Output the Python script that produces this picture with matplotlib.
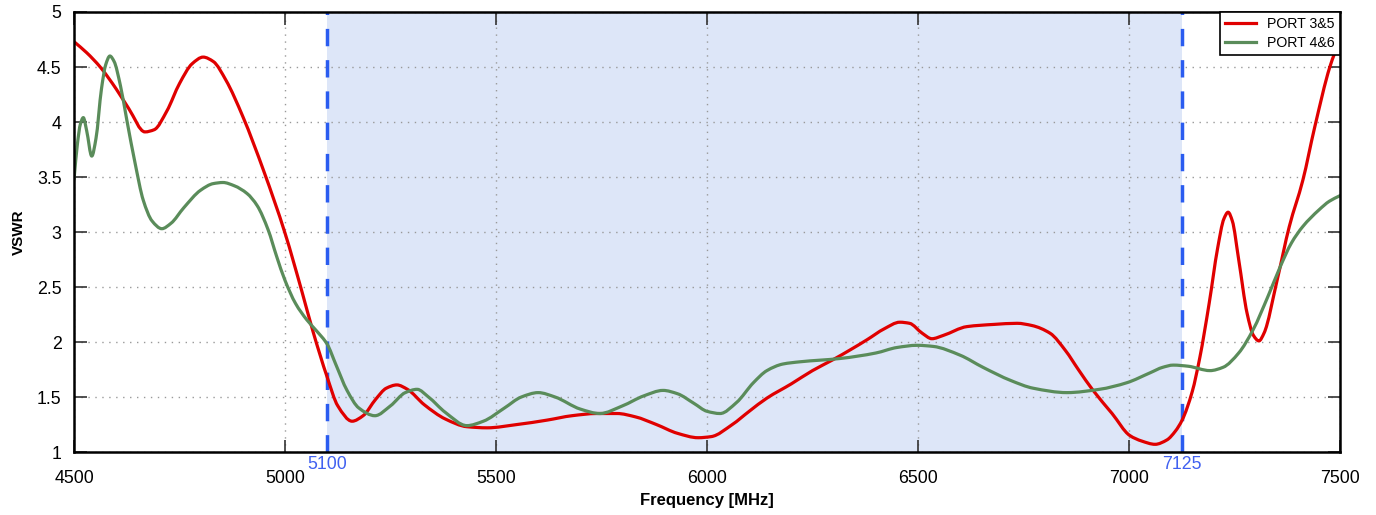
import matplotlib
matplotlib.use("Agg")
import matplotlib.pyplot as plt
from matplotlib.path import Path
from matplotlib.patches import PathPatch
from matplotlib.lines import Line2D

plt.rcParams['font.family'] = ['Liberation Sans', 'DejaVu Sans']

# PORT 3&5 (red)
red_x = [4500, 4530, 4562, 4600, 4630, 4668, 4690, 4720, 4750, 4780, 4806, 4830, 4860,
         4900, 4950, 5000, 5040, 5066, 5100, 5125, 5159, 5185, 5215, 5240, 5265, 5290,
         5330, 5380, 5431, 5479, 5550, 5621, 5680, 5739, 5787, 5830, 5880, 5930, 5979,
         6010, 6060, 6100, 6142, 6200, 6250, 6299, 6340, 6379, 6420, 6457, 6480, 6510,
         6533, 6560, 6616, 6680, 6735, 6770, 6813, 6850, 6880, 6915, 6960, 7002, 7030,
         7062, 7090, 7110, 7126, 7150, 7168, 7190, 7210, 7225, 7235, 7245, 7260, 7280,
         7295, 7308, 7320, 7351, 7380, 7412, 7440, 7476, 7500]
red_y = [4.73, 4.63, 4.50, 4.30, 4.12, 3.91, 3.93, 4.10, 4.35, 4.53, 4.59, 4.55, 4.38,
         4.05, 3.55, 2.99, 2.46, 2.10, 1.68, 1.42, 1.28, 1.33, 1.48, 1.58, 1.61, 1.57,
         1.43, 1.30, 1.23, 1.22, 1.25, 1.29, 1.33, 1.35, 1.35, 1.32, 1.25, 1.17, 1.13,
         1.14, 1.25, 1.37, 1.49, 1.62, 1.74, 1.84, 1.93, 2.02, 2.12, 2.18, 2.17, 2.08,
         2.03, 2.06, 2.14, 2.16, 2.17, 2.15, 2.08, 1.92, 1.75, 1.56, 1.35, 1.15, 1.10,
         1.07, 1.11, 1.19, 1.29, 1.55, 1.86, 2.35, 2.85, 3.12, 3.18, 3.10, 2.75, 2.26,
         2.06, 2.01, 2.08, 2.56, 3.05, 3.47, 3.95, 4.50, 4.75]

# PORT 4&6 (green)
green_x = [4500, 4508, 4515, 4522, 4530, 4542, 4552, 4565, 4575, 4585, 4595, 4610, 4625,
           4645, 4664, 4685, 4708, 4730, 4760, 4800, 4830, 4853, 4880, 4910, 4934, 4960,
           4980, 5000, 5025, 5052, 5075, 5100, 5120, 5147, 5175, 5213, 5250, 5285, 5313,
           5340, 5380, 5431, 5470, 5520, 5560, 5600, 5640, 5700, 5746, 5800, 5850, 5896,
           5930, 5970, 6000, 6031, 6070, 6110, 6142, 6180, 6220, 6315, 6400, 6450, 6498,
           6536, 6600, 6654, 6720, 6773, 6853, 6930, 6995, 7050, 7080, 7105, 7140, 7192,
           7223, 7260, 7294, 7330, 7358, 7385, 7412, 7450, 7475, 7500]
green_y = [3.48, 3.80, 3.98, 4.04, 3.92, 3.69, 3.85, 4.30, 4.52, 4.60, 4.55, 4.33, 4.02,
           3.62, 3.29, 3.10, 3.03, 3.08, 3.22, 3.38, 3.44, 3.45, 3.42, 3.35, 3.24, 3.02,
           2.78, 2.56, 2.35, 2.20, 2.10, 1.98, 1.80, 1.56, 1.40, 1.33, 1.42, 1.54, 1.57,
           1.50, 1.36, 1.24, 1.28, 1.40, 1.50, 1.54, 1.50, 1.39, 1.35, 1.42, 1.51, 1.56,
           1.53, 1.44, 1.37, 1.35, 1.45, 1.63, 1.74, 1.80, 1.82, 1.85, 1.90, 1.95, 1.97,
           1.96, 1.88, 1.77, 1.65, 1.58, 1.54, 1.57, 1.63, 1.72, 1.77, 1.79, 1.78, 1.74,
           1.77, 1.90, 2.11, 2.42, 2.68, 2.90, 3.05, 3.20, 3.28, 3.33]

series_names = ['PORT 3&5', 'PORT 4&6']
band = [5100, 7125]
x_ticks = [4500, 5000, 5500, 6000, 6500, 7000, 7500]
y_ticks = [1, 1.5, 2, 2.5, 3, 3.5, 4, 4.5, 5]
y_labels = ['1', '1.5', '2', '2.5', '3', '3.5', '4', '4.5', '5']


def smooth_path(xs, ys):
    """Monotone cubic (Fritsch-Carlson) Bezier path through the read points."""
    n = len(xs)
    d = [(ys[i + 1] - ys[i]) / (xs[i + 1] - xs[i]) for i in range(n - 1)]
    m = [0.0] * n
    m[0] = d[0]
    m[-1] = d[-1]
    for i in range(1, n - 1):
        if d[i - 1] * d[i] <= 0:
            m[i] = 0.0
        else:
            h0 = xs[i] - xs[i - 1]
            h1 = xs[i + 1] - xs[i]
            w1 = 2 * h1 + h0
            w2 = h1 + 2 * h0
            m[i] = (w1 + w2) / (w1 / d[i - 1] + w2 / d[i])
    verts = [(xs[0], ys[0])]
    codes = [Path.MOVETO]
    for i in range(n - 1):
        h = xs[i + 1] - xs[i]
        verts += [(xs[i] + h / 3, ys[i] + m[i] * h / 3),
                  (xs[i + 1] - h / 3, ys[i + 1] - m[i + 1] * h / 3),
                  (xs[i + 1], ys[i + 1])]
        codes += [Path.CURVE4] * 3
    return Path(verts, codes)


fig = plt.figure(figsize=(13.76, 5.15), dpi=100)
ax = fig.add_axes([0.0538, 0.1223, 0.92, 0.8544])

ax.axvspan(band[0], band[1], color='#dde6f8', zorder=0, lw=0)
for b in band:
    ax.axvline(b, color='#2a5cf0', lw=2.5, linestyle=(0, (5, 4)), zorder=3)
    ax.text(b, -0.008, str(b), transform=ax.get_xaxis_transform(), ha='center', va='top',
            color='#4060f0', fontsize=12.8)

colors = ['#e00000', '#5a8c5a']
handles = []
for xs, ys, c, name in [(red_x, red_y, colors[0], series_names[0]),
                        (green_x, green_y, colors[1], series_names[1])]:
    patch = PathPatch(smooth_path(xs, ys), facecolor='none', edgecolor=c, lw=2.3,
                      zorder=4, capstyle='round', joinstyle='round')
    ax.add_patch(patch)
    handles.append(Line2D([], [], color=c, lw=2.3, label=name))

ax.set_xlim(4500, 7500)
ax.set_ylim(1, 5)
ax.set_xticks(x_ticks)
ax.set_yticks(y_ticks)
ax.set_yticklabels(y_labels)
ax.grid(True, color='#999999', linestyle=(0, (1, 4)), lw=1.0, zorder=1)
ax.set_axisbelow(True)
ax.tick_params(direction='in', length=9, width=1.2, top=True, right=True,
               labelsize=12.8, color='#333333')
ax.tick_params(axis='x', pad=13)
ax.tick_params(axis='y', pad=9)
for s in ax.spines.values():
    s.set_linewidth(1.8)
    s.set_zorder(5)

ax.set_xlabel('Frequency [MHz]', fontsize=12, fontweight='bold', labelpad=4)
ax.set_ylabel('VSWR', fontsize=11, fontweight='bold', labelpad=8)

leg = ax.legend(handles=handles, loc='upper right', fontsize=10.2, fancybox=False,
                framealpha=1, edgecolor='black', borderaxespad=0, handlelength=2.2,
                borderpad=0.35, labelspacing=0.35)
leg.get_frame().set_linewidth(1.2)
leg.set_zorder(6)

fig.savefig('out.png', dpi=100)
